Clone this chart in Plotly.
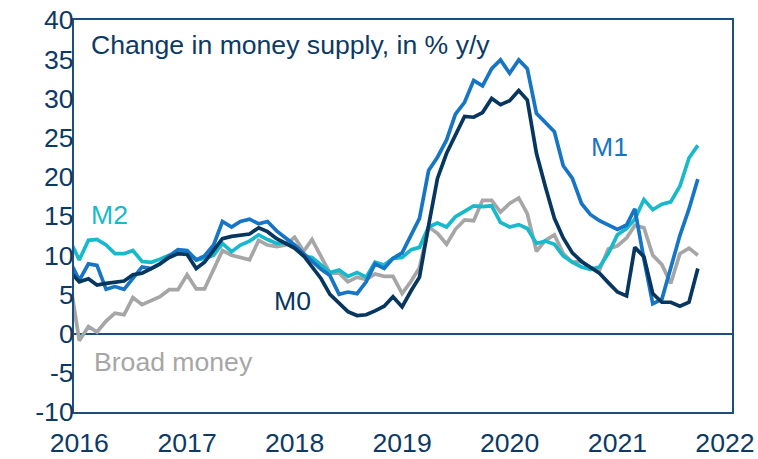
import pandas as pd
import plotly.graph_objects as go

# Monthly observations, Dec 2015 .. Oct 2021 (first point is clipped by the axis)
dates = pd.date_range("2015-12-01", periods=71, freq="MS")

m0 = [7.9, 6.6, 7.0, 6.2, 6.4, 6.6, 6.7, 7.5, 7.7, 8.3, 8.9, 9.7, 10.2, 10.1, 8.3, 9.1,
      10.7, 12.1, 12.4, 12.5, 12.7, 13.5, 13.0, 12.1, 11.5, 10.9, 9.9, 8.5, 7.0, 5.0, 3.9,
      2.8, 2.3, 2.4, 2.9, 3.5, 4.7, 3.4, 5.5, 7.2, 13.8, 19.8, 23.0, 25.4, 27.7, 27.6, 28.2,
      30.0, 29.2, 29.7, 31.0, 29.8, 23.0, 18.8, 14.7, 12.2, 10.3, 9.2, 8.5, 7.7, 6.5, 5.3,
      4.8, 11.0, 9.8, 5.1, 4.0, 4.0, 3.5, 4.0, 8.3]
m1 = [9.2, 6.8, 8.9, 8.7, 5.65, 6.0, 5.65, 7.1, 8.5, 8.3, 8.9, 9.9, 10.7, 10.6, 9.4, 9.9,
      11.3, 14.3, 13.6, 14.3, 14.6, 14.0, 14.3, 13.1, 12.2, 11.3, 10.2, 9.3, 8.2, 7.4, 5.0,
      5.3, 5.1, 6.6, 8.9, 8.3, 9.6, 10.3, 12.6, 14.7, 20.8, 22.5, 24.7, 28.0, 29.5, 32.3,
      31.6, 33.8, 34.9, 33.2, 34.9, 33.8, 28.1, 27.0, 25.75, 21.4, 19.8, 16.6, 15.2, 14.4,
      13.85, 13.3, 13.85, 15.9, 9.5, 3.8, 4.4, 8.4, 12.5, 15.9, 19.7]
m2 = [11.8, 9.4, 11.9, 12.0, 11.3, 10.2, 10.2, 10.6, 9.2, 9.1, 9.5, 10.0, 10.2, 10.4, 9.4,
      9.6, 10.0, 11.5, 10.45, 11.3, 11.8, 12.6, 12.0, 11.5, 11.6, 10.9, 9.9, 9.7, 8.75, 7.8,
      8.1, 7.3, 7.8, 7.2, 9.1, 8.75, 9.6, 9.7, 10.7, 11.0, 13.6, 14.1, 13.6, 14.9, 15.6,
      16.3, 16.2, 16.3, 14.2, 13.6, 13.9, 13.4, 11.5, 11.8, 11.4, 9.9, 9.1, 8.5, 8.2, 8.5,
      10.2, 12.6, 13.4, 14.6, 17.1, 15.8, 16.5, 16.8, 18.8, 22.4, 24.0]
broad = [6.5, -0.9, 0.9, 0.2, 1.6, 2.6, 2.4, 4.6, 3.7, 4.2, 4.7, 5.6, 5.6, 7.5, 5.7, 5.7,
         8.1, 10.6, 10.0, 9.7, 9.4, 11.9, 11.3, 11.1, 11.3, 12.3, 10.5, 12.0, 9.8, 7.7, 7.7,
         6.6, 7.2, 6.9, 7.6, 7.3, 7.3, 5.1, 6.7, 8.4, 13.6, 12.8, 11.4, 13.3, 14.5, 14.4,
         17.0, 17.0, 15.5, 16.6, 17.3, 15.3, 10.5, 11.9, 12.6, 10.2, 9.1, 9.2, 8.4, 8.1,
         10.8, 11.2, 12.2, 13.8, 13.5, 10.0, 8.8, 6.4, 10.2, 10.9, 10.0]

years = [2016, 2017, 2018, 2019, 2020, 2021, 2022]
y_ticks = [-10, -5, 0, 5, 10, 15, 20, 25, 30, 35, 40]

NAVY_TXT = "#0c3a64"
FRAME = "#1d4f7c"
C_M0 = "#07365f"
C_M1 = "#1675c4"
C_M2 = "#17b9ca"
C_BR = "#a6a6a6"
FONT = "Liberation Sans, Arial, sans-serif"
FS = 26.6

fig = go.Figure()
for name, vals, col in [("Broad money", broad, C_BR), ("M2", m2, C_M2),
                        ("M1", m1, C_M1), ("M0", m0, C_M0)]:
    fig.add_trace(go.Scatter(x=dates, y=vals, mode="lines", name=name,
                             line=dict(color=col, width=3.7), showlegend=False))

fig.update_layout(
    width=758, height=459,
    margin=dict(l=74, r=26, t=20, b=47, autoexpand=False),
    paper_bgcolor="white", plot_bgcolor="white",
    font=dict(family=FONT, size=FS, color=NAVY_TXT),
)
fig.update_xaxes(
    type="date", range=["2015-12-14", "2022-01-25"],
    tickvals=[pd.Timestamp(f"{y}-01-01") for y in years],
    ticktext=[str(y) for y in years],
    showgrid=False, showline=True, mirror=True, linecolor=FRAME, linewidth=2,
    ticks="", zeroline=False, automargin=False, ticklabelstandoff=6,
    tickfont=dict(family=FONT, size=FS, color=NAVY_TXT),
)
fig.update_yaxes(
    range=[-10, 40], tickvals=y_ticks, ticktext=[str(v) for v in y_ticks],
    showgrid=False, showline=True, mirror=True, linecolor=FRAME, linewidth=2,
    zeroline=True, zerolinecolor=FRAME, zerolinewidth=2, ticks="", automargin=False,
    ticklabelstandoff=-7,
    tickfont=dict(family=FONT, size=FS, color=NAVY_TXT),
)

def label(text, x, y, color, anchor="center"):
    fig.add_annotation(text=text, xref="paper", yref="paper", x=x, y=y,
                       xanchor=anchor, yanchor="middle", showarrow=False,
                       font=dict(family=FONT, size=FS, color=color))

label("Change in money supply, in % y/y", 0.0235, 0.935, NAVY_TXT, "left")
label("M2", 0.0532, 0.5013, C_M2)
label("M0", 0.3321, 0.2832, C_M0)
label("M1", 0.8141, 0.6768, C_M1)
label("Broad money", 0.1514, 0.1263, C_BR)

fig.write_html("out.html", config={"displayModeBar": False},
               post_script="document.body.style.margin='0';")
